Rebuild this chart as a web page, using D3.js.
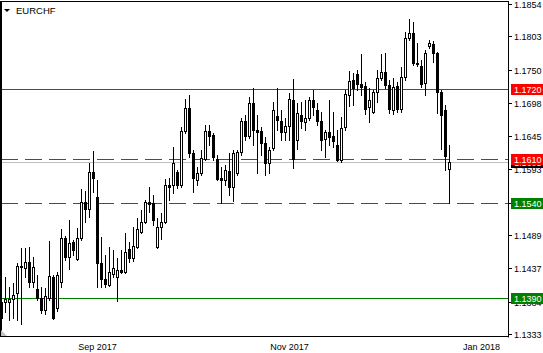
<!DOCTYPE html>
<html>
<head>
<meta charset="utf-8">
<script src="https://cdn.jsdelivr.net/npm/d3@7"></script>
<style>
  body { margin: 0; background: #fff; }
  svg { display: block; }
  text { font-family: "Liberation Sans", Arial, sans-serif; }
</style>
</head>
<body>
<svg id="chart"></svg>
<script>
// EURCHF daily candles (oldest -> newest)
var opens = [1.1358,1.1384,1.1384,1.1388,1.1398,1.1440,1.1437,1.1447,1.1415,1.1404,
  1.1390,1.1371,1.1390,1.1423,1.1374,1.1415,1.1485,1.1455,1.1478,1.1451,
  1.1485,1.1541,1.1530,1.1589,1.1549,1.1445,1.1420,1.1410,1.1428,1.1423,
  1.1434,1.1431,1.1467,1.1453,1.1470,1.1494,1.1510,1.1541,1.1540,1.1470,
  1.1502,1.1510,1.1568,1.1568,1.1589,1.1568,1.1654,1.1690,1.1619,1.1576,
  1.1587,1.1609,1.1654,1.1647,1.1609,1.1579,1.1576,1.1590,1.1565,1.1587,
  1.1620,1.1669,1.1646,1.1698,1.1655,1.1654,1.1635,1.1603,1.1627,1.1677,
  1.1669,1.1652,1.1661,1.1702,1.1639,1.1679,1.1668,1.1674,1.1702,1.1687,
  1.1669,1.1641,1.1652,1.1646,1.1631,1.1608,1.1660,1.1710,1.1734,1.1743,
  1.1728,1.1725,1.1691,1.1683,1.1715,1.1737,1.1747,1.1726,1.1687,1.1725,
  1.1688,1.1739,1.1800,1.1808,1.1761,1.1756,1.1729,1.1788,1.1791,1.1777,
  1.1715,1.1687,1.1593]
var highs = [1.1390,1.1423,1.1407,1.1413,1.1445,1.1469,1.1469,1.1470,1.1455,1.1426,
  1.1407,1.1406,1.1480,1.1426,1.1431,1.1499,1.1488,1.1513,1.1481,1.1500,
  1.1562,1.1559,1.1603,1.1622,1.1576,1.1486,1.1458,1.1470,1.1466,1.1453,
  1.1466,1.1492,1.1478,1.1502,1.1516,1.1529,1.1545,1.1565,1.1552,1.1516,
  1.1524,1.1578,1.1579,1.1628,1.1592,1.1660,1.1704,1.1710,1.1624,1.1597,
  1.1624,1.1663,1.1663,1.1650,1.1616,1.1597,1.1600,1.1619,1.1624,1.1624,
  1.1674,1.1679,1.1707,1.1721,1.1679,1.1660,1.1644,1.1628,1.1699,1.1721,
  1.1687,1.1674,1.1713,1.1736,1.1698,1.1699,1.1702,1.1707,1.1718,1.1698,
  1.1683,1.1655,1.1702,1.1683,1.1655,1.1676,1.1718,1.1748,1.1745,1.1750,
  1.1775,1.1731,1.1721,1.1718,1.1750,1.1775,1.1777,1.1734,1.1737,1.1731,
  1.1755,1.1810,1.1830,1.1826,1.1792,1.1766,1.1781,1.1797,1.1796,1.1778,
  1.1718,1.1695,1.1631]
var lows = [1.1350,1.1368,1.1355,1.1358,1.1355,1.1349,1.1423,1.1407,1.1407,1.1387,
  1.1366,1.1365,1.1387,1.1357,1.1369,1.1407,1.1450,1.1436,1.1458,1.1450,
  1.1481,1.1510,1.1518,1.1557,1.1407,1.1407,1.1407,1.1409,1.1423,1.1385,
  1.1429,1.1429,1.1447,1.1448,1.1469,1.1492,1.1508,1.1526,1.1505,1.1469,
  1.1483,1.1508,1.1545,1.1556,1.1563,1.1565,1.1650,1.1612,1.1557,1.1568,
  1.1584,1.1608,1.1631,1.1608,1.1576,1.1540,1.1568,1.1552,1.1543,1.1584,
  1.1616,1.1639,1.1642,1.1631,1.1587,1.1616,1.1584,1.1587,1.1624,1.1655,
  1.1639,1.1639,1.1639,1.1595,1.1625,1.1658,1.1655,1.1671,1.1679,1.1663,
  1.1624,1.1612,1.1631,1.1628,1.1606,1.1605,1.1655,1.1693,1.1695,1.1718,
  1.1710,1.1680,1.1668,1.1682,1.1699,1.1734,1.1721,1.1682,1.1680,1.1683,
  1.1683,1.1734,1.1797,1.1758,1.1756,1.1723,1.1710,1.1784,1.1762,1.1682,
  1.1625,1.1592,1.1540]
var closes = [1.1384,1.1388,1.1388,1.1395,1.1440,1.1439,1.1447,1.1415,1.1439,1.1390,
  1.1371,1.1393,1.1425,1.1358,1.1426,1.1485,1.1455,1.1477,1.1466,1.1485,
  1.1541,1.1530,1.1589,1.1579,1.1445,1.1420,1.1412,1.1431,1.1437,1.1434,
  1.1431,1.1462,1.1453,1.1472,1.1499,1.1510,1.1541,1.1538,1.1513,1.1502,
  1.1510,1.1568,1.1565,1.1603,1.1568,1.1654,1.1690,1.1619,1.1579,1.1587,
  1.1611,1.1654,1.1646,1.1612,1.1578,1.1576,1.1592,1.1565,1.1619,1.1620,
  1.1669,1.1646,1.1698,1.1655,1.1652,1.1635,1.1603,1.1624,1.1687,1.1671,
  1.1652,1.1661,1.1704,1.1609,1.1682,1.1669,1.1674,1.1702,1.1691,1.1669,
  1.1639,1.1652,1.1644,1.1638,1.1608,1.1658,1.1712,1.1732,1.1721,1.1728,
  1.1723,1.1688,1.1702,1.1715,1.1737,1.1747,1.1726,1.1688,1.1723,1.1688,
  1.1739,1.1800,1.1808,1.1761,1.1759,1.1728,1.1777,1.1792,1.1777,1.1715,
  1.1679,1.1614,1.1605]

// right price scale labels and bottom time labels (bar index of each label)
var yTickValues = [1.1854,1.1803,1.1750,1.1698,1.1645,1.1593,1.1540,1.1489,1.1437,1.1384,1.1333]
var xTickLabels = ["Sep 2017","Nov 2017","Jan 2018"]
var xTickIndex = [24,72,120]

// horizontal levels drawn on the chart
var levelValues = [1.1720,1.1610,1.1540,1.1390]
var levelColors = ["#ff0000","#ff0000","#008000","#008000"]
var levelDashed = [false,true,true,false]

var width = 543, height = 353
var plotRight = 508.5, plotBottom = 337

var svg = d3.select("#chart")
    .attr("width", width)
    .attr("height", height)

var candles = opens.map((o, i) => ({i: i, o: o, h: highs[i], l: lows[i], c: closes[i]}))

var x = d3.scaleLinear().domain([0, candles.length - 1]).range([1.5, 449.5])
var y = d3.scaleLinear().domain([1.1333, 1.1854]).range([334, 4])

// level lines + bid line
var lines = svg.append("g")
levelValues.forEach(function (v, k) {
    var yy = Math.round(y(v)) + 0.5
    lines.append("line")
        .attr("x1", 1).attr("x2", plotRight)
        .attr("y1", yy).attr("y2", yy)
        .attr("stroke", levelColors[k])
        .attr("stroke-width", 1)
        .attr("stroke-dasharray", levelDashed[k] ? "17,7" : null)
})
var bid = closes[closes.length - 1]
lines.append("line")
    .attr("x1", 1).attr("x2", plotRight)
    .attr("y1", Math.round(y(bid)) + 0.5).attr("y2", Math.round(y(bid)) + 0.5)
    .attr("stroke", "#c0c0c0")

// candles
var g = svg.append("g")
g.selectAll("line.wick")
    .data(candles)
    .enter()
    .append("line")
    .attr("class", "wick")
    .attr("x1", d => x(d.i)).attr("x2", d => x(d.i))
    .attr("y1", d => Math.round(y(d.h)))
    .attr("y2", d => Math.round(y(d.l)) + 1)
    .attr("stroke", "#000")

g.selectAll("rect.body")
    .data(candles)
    .enter()
    .append("rect")
    .attr("class", "body")
    .attr("x", d => d.c >= d.o ? x(d.i) - 1 : x(d.i) - 1.5)
    .attr("y", function (d) {
        var t = Math.round(y(Math.max(d.o, d.c)))
        return d.c >= d.o ? t + 0.5 : t
    })
    .attr("width", d => d.c >= d.o ? 2 : 3)
    .attr("height", function (d) {
        var t = Math.round(y(Math.max(d.o, d.c)))
        var b = Math.round(y(Math.min(d.o, d.c)))
        return d.c >= d.o ? Math.max(b - t, 1) : Math.max(b - t + 1, 1)
    })
    .attr("fill", d => d.c >= d.o ? "#fff" : "#000")
    .attr("stroke", d => d.c >= d.o ? "#000" : "none")

// frame
svg.append("line").attr("x1", 0).attr("x2", plotRight).attr("y1", 1.5).attr("y2", 1.5).attr("stroke", "#000")
svg.append("line").attr("x1", 1).attr("x2", 1).attr("y1", 1).attr("y2", plotBottom).attr("stroke", "#000").attr("stroke-width", 2)
svg.append("line").attr("x1", plotRight).attr("x2", plotRight).attr("y1", 1).attr("y2", plotBottom + 0.5).attr("stroke", "#000")
svg.append("line").attr("x1", 0).attr("x2", plotRight).attr("y1", plotBottom - 0.5).attr("y2", plotBottom - 0.5).attr("stroke", "#000")
svg.append("path").attr("d", "M1,330L1,336L7,336Z").attr("fill", "#c0c0c0")

// symbol caption
svg.append("path").attr("d", "M4,9L10,9L7,12Z").attr("fill", "#000")
svg.append("text").attr("x", 16).attr("y", 13.5)
    .attr("font-size", "9.5px").attr("fill", "#000").text("EURCHF")

// right price axis
var ya = svg.append("g")
yTickValues.forEach(function (v) {
    var yy = Math.round(y(v)) + 0.5
    ya.append("line").attr("x1", plotRight).attr("x2", 512).attr("y1", yy).attr("y2", yy).attr("stroke", "#000")
    ya.append("text").attr("x", 514).attr("y", yy)
        .attr("dy", "0.35em").attr("font-size", "9px").attr("fill", "#000")
        .text(v.toFixed(4))
})

// bottom time labels
xTickLabels.forEach(function (t, k) {
    svg.append("text").attr("x", x(xTickIndex[k])).attr("y", 350)
        .attr("text-anchor", "middle").attr("font-size", "9px").attr("fill", "#000")
        .text(t)
})

// price tags on the axis
function tag(v, color) {
    var yy = Math.round(y(v)) + 0.5
    svg.append("rect").attr("x", 511).attr("y", yy - 5.5).attr("width", 32).attr("height", 11).attr("fill", color)
    svg.append("text").attr("x", 514).attr("y", yy).attr("dy", "0.35em")
        .attr("font-size", "9px").attr("fill", "#fff").text(v.toFixed(4))
}
tag(bid, "#000")
levelValues.forEach((v, k) => tag(v, levelColors[k]))
</script>
</body>
</html>
